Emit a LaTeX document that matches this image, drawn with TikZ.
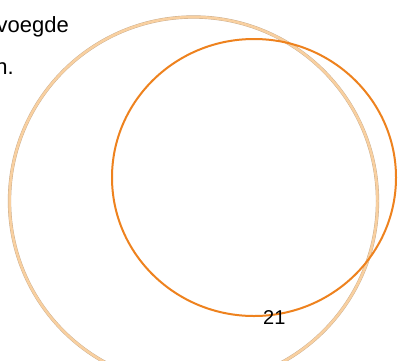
\documentclass[tikz,border=0pt]{standalone}
\usepackage{fontspec}
\setmainfont{Liberation Sans}
\definecolor{peach}{RGB}{249,208,160}
\definecolor{peachedge}{RGB}{200,172,140}
\definecolor{orng}{RGB}{238,130,30}
\tikzset{
  txt/.style={inner sep=0pt, font=\fontsize{22}{26}\selectfont, text=black},
  numtxt/.style={inner sep=0pt, font=\fontsize{20}{24}\selectfont, text=black},
  bigring/.style={draw=peachedge, line width=0.4pt, double=peach, double distance=2.5pt},
  orangering/.style={draw=orng, line width=2pt}
}
\begin{document}
\begin{tikzpicture}[x=1pt,y=1pt]
\useasboundingbox (0,0) rectangle (398,360);
\clip (0,0) rectangle (398,360);
\fill[white] (0,0) rectangle (398,360);
\draw[bigring] (193.5,159) circle (184);
\draw[orangering] (254,182.5) ellipse (142 and 138.5);
\node[txt, anchor=base east] (l1) at (69,328) {voegde};
\node[txt, anchor=base east] (l2) at (14,286) {n.};
\node[numtxt, anchor=base west] (num) at (263,36) {21};
\end{tikzpicture}
\end{document}
